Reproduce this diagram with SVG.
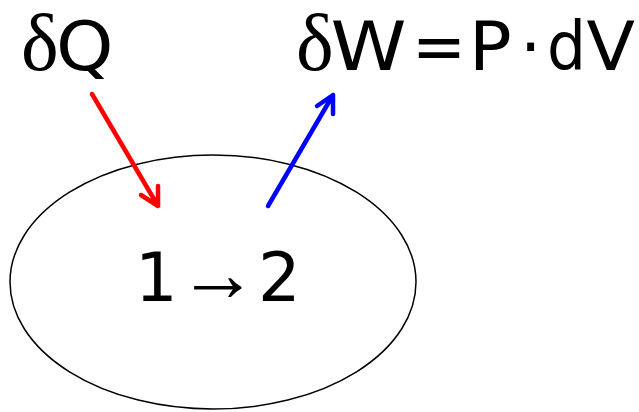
<svg xmlns="http://www.w3.org/2000/svg" width="639" height="412" viewBox="0 0 639 412">
<style>
.s{font-family:"DejaVu Sans","Liberation Sans",sans-serif;font-size:67px;fill:#000}
.g{font-family:"Liberation Serif",serif;font-size:80px;fill:#000}
.arr{fill:none;stroke-width:4.5;stroke-linecap:round;stroke-linejoin:round}
</style>
<rect width="639" height="412" fill="#fff"/>
<g id="system">
<ellipse cx="213" cy="282" rx="203" ry="127" fill="none" stroke="#000" stroke-width="1.5"/>
<text class="s" x="135" y="301" font-size="52">1</text>
<text class="g" x="178" y="301" font-size="78">→</text>
<text class="s" x="258" y="301" font-size="52">2</text>
</g>
<g id="heat">
<text class="g" x="21" y="70">δ</text>
<text class="s" x="56" y="70" textLength="57.5" lengthAdjust="spacingAndGlyphs">Q</text>
</g>
<g id="work">
<text class="g" x="296" y="70">δ</text>
<text class="s" x="330.5" y="70" textLength="76" lengthAdjust="spacingAndGlyphs">W</text>
<text class="s" x="412" y="70" textLength="54" lengthAdjust="spacingAndGlyphs">=</text>
<text class="s" x="469" y="70" textLength="42.7" lengthAdjust="spacingAndGlyphs">P</text>
<text class="s" x="520" y="70">·</text>
<text class="s" x="547" y="70" textLength="39" lengthAdjust="spacingAndGlyphs">d</text>
<text class="s" x="586.5" y="70" textLength="48.5" lengthAdjust="spacingAndGlyphs">V</text>
</g>
<g id="connectors">
<path class="arr" stroke="#f00" d="M92,94 L158,206 M141,195 L158,206 L158,186"/>
<path class="arr" stroke="#00f" d="M268,206 L333,95 M317,106 L333,95 L333,114"/>
</g>
</svg>
